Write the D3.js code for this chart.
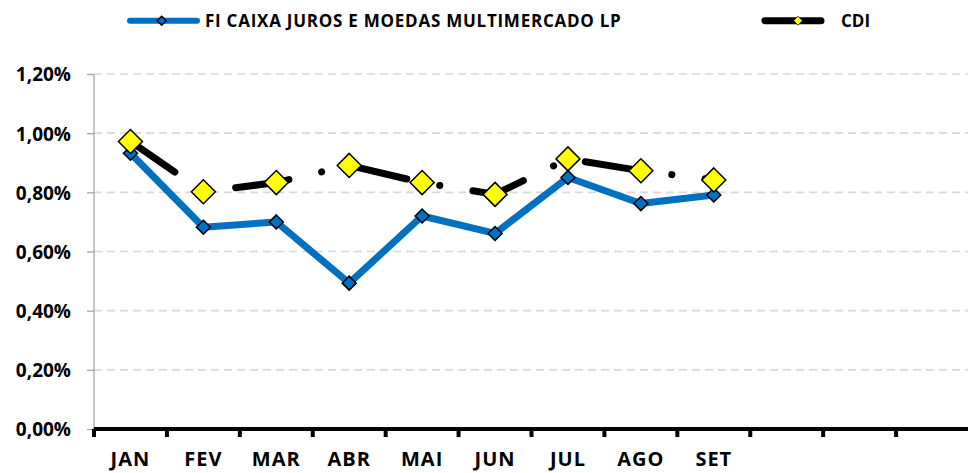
<!DOCTYPE html>
<html><head><meta charset="utf-8">
<script src="https://cdn.jsdelivr.net/npm/d3@7/dist/d3.min.js"></script>
<style>
html,body{margin:0;padding:0;background:#fff;}
svg{display:block;font-family:"Open Sans",sans-serif;font-weight:bold;}
</style></head>
<body>
<svg id="chart" width="968" height="473"></svg>
<script>
const months = ["JAN","FEV","MAR","ABR","MAI","JUN","JUL","AGO","SET","OUT","NOV","DEZ"];
const fundName = "FI CAIXA JUROS E MOEDAS MULTIMERCADO LP";
const fundValues = [0.932, 0.682, 0.700, 0.493, 0.720, 0.661, 0.850, 0.762, 0.791];
const cdiName = "CDI";
const cdiValues = [0.972, 0.802, 0.833, 0.891, 0.833, 0.793, 0.913, 0.873, 0.842];
const yTicks = [0, 0.2, 0.4, 0.6, 0.8, 1.0, 1.2];

const svg = d3.select("#chart");
const x = d3.scaleBand().domain(months).range([94, 969]);
const y = d3.scaleLinear().domain([0, 1.2]).range([429, 74]);
const fmt = v => d3.format(".2f")(v).replace(".", ",") + "%";

// gridlines
svg.append("g").selectAll("line").data(yTicks.filter(d => d > 0)).join("line")
  .attr("x1", 94).attr("x2", 968)
  .attr("y1", d => y(d)).attr("y2", d => y(d))
  .attr("stroke", "#d9d9d9").attr("stroke-width", 1.6)
  .attr("stroke-dasharray", "8,5");

// y axis
const yAxis = svg.append("g").attr("transform", "translate(94,0)")
  .call(d3.axisLeft(y).tickValues(yTicks).tickSize(7).tickFormat(fmt));
yAxis.select(".domain").attr("stroke", "#a6a6a6").attr("stroke-width", 1.3).attr("d", `M0,${y(1.2)}V${y(0)}`);
yAxis.selectAll(".tick line").attr("stroke", "#a6a6a6").attr("stroke-width", 1.3);
yAxis.selectAll(".tick text").attr("x", -23).attr("dy", "0.36em")
  .attr("fill", "#000").style("font-size", "19px").style("font-family", "'Open Sans',sans-serif").style("font-weight", "bold");

// x axis
const xAxis = svg.append("g").attr("transform", "translate(0,429)")
  .call(d3.axisBottom(x).tickSize(0).tickFormat(d => months.indexOf(d) < fundValues.length ? d : ""));
xAxis.select(".domain").attr("stroke", "#000").attr("stroke-width", 4).attr("d", "M94,0H968");
xAxis.selectAll(".tick text").attr("y", 37).attr("dy", 0)
  .attr("fill", "#000").style("font-size", "20px").style("letter-spacing", "1px")
  .style("font-family", "'Open Sans',sans-serif").style("font-weight", "bold");
svg.append("g").selectAll("line").data(months).join("line")
  .attr("x1", d => x(d)).attr("x2", d => x(d))
  .attr("y1", 429).attr("y2", 437)
  .attr("stroke", "#000").attr("stroke-width", 4);

const cx = d => x(d) + x.bandwidth() / 2;

const cdiData = cdiValues.map((v, i) => ({m: months[i], v}));
const fundData = fundValues.map((v, i) => ({m: months[i], v}));
const line = d3.line().x(d => cx(d.m)).y(d => y(d.v));

svg.append("path").datum(fundData).attr("d", line)
  .attr("fill", "none").attr("stroke", "#0070c0").attr("stroke-width", 7)
  .attr("stroke-linejoin", "round");

svg.append("path").datum(cdiData).attr("d", line)
  .attr("fill", "none").attr("stroke", "#000").attr("stroke-width", 7)
  .attr("stroke-linecap", "round").attr("stroke-linejoin", "round")
  .attr("stroke-dasharray", "54,33.5,0.1,33.5");

const diamond = r => `M0,${-r}L${r},0L0,${r}L${-r},0Z`;

svg.append("g").selectAll("path").data(fundData).join("path")
  .attr("transform", d => `translate(${cx(d.m)},${y(d.v)})`)
  .attr("d", diamond(7)).attr("fill", "#0070c0").attr("stroke", "#000").attr("stroke-width", 1.5);

svg.append("g").selectAll("path").data(cdiData).join("path")
  .attr("transform", d => `translate(${cx(d.m)},${y(d.v)})`)
  .attr("d", diamond(12)).attr("fill", "#ffff00").attr("stroke", "#000").attr("stroke-width", 1.5);

// legend
const lg = svg.append("g");
lg.append("line").attr("x1", 130).attr("x2", 197).attr("y1", 20.7).attr("y2", 20.7)
  .attr("stroke", "#0070c0").attr("stroke-width", 6).attr("stroke-linecap", "round");
lg.append("path").attr("transform", "translate(161.7,20.7)").attr("d", diamond(4.5))
  .attr("fill", "#0070c0").attr("stroke", "#000").attr("stroke-width", 1.5);
lg.append("text").attr("x", 205).attr("y", 26.5).text(fundName)
  .style("font-size", "17px").style("letter-spacing", "0.75px").attr("fill", "#000");
lg.append("line").attr("x1", 765).attr("x2", 821).attr("y1", 20.7).attr("y2", 20.7)
  .attr("stroke", "#000").attr("stroke-width", 7).attr("stroke-linecap", "round");
lg.append("path").attr("transform", "translate(798,20.7)").attr("d", diamond(4.5))
  .attr("fill", "#ffff00").attr("stroke", "#000").attr("stroke-width", 0.8);
lg.append("text").attr("x", 841).attr("y", 26.5).text(cdiName)
  .style("font-size", "17px").attr("fill", "#000");
</script>
</body></html>
